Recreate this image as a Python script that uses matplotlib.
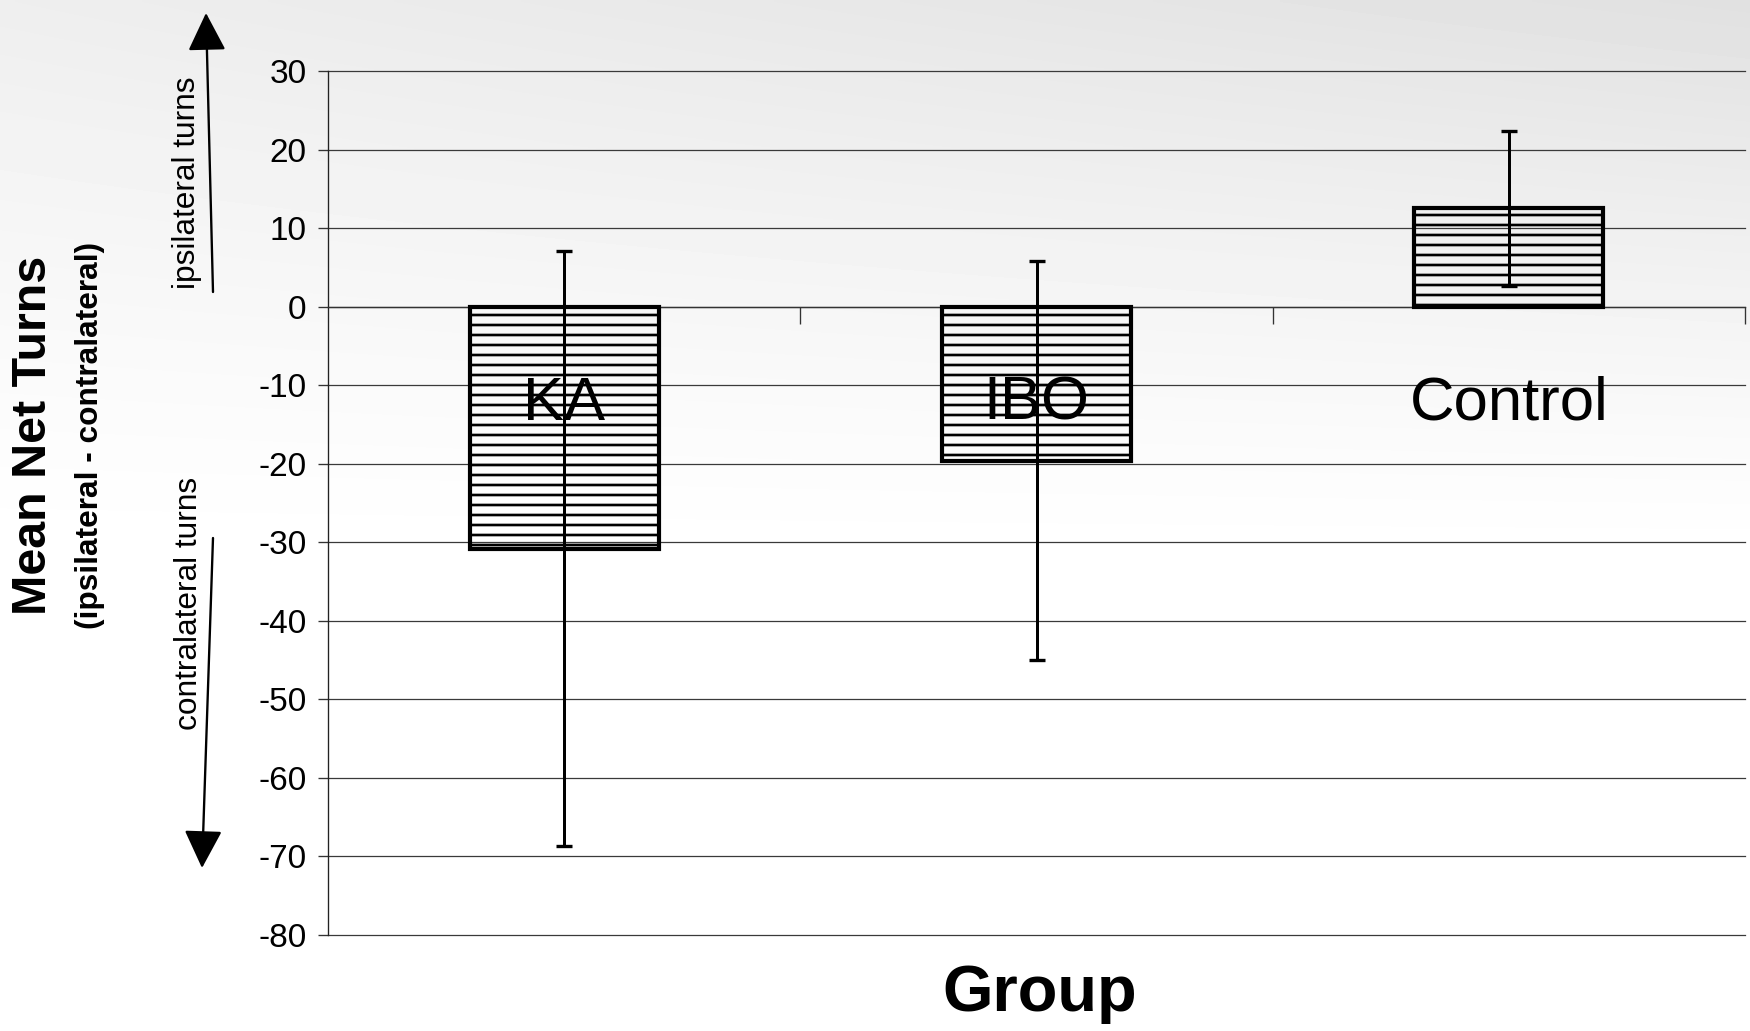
import numpy as np
import matplotlib
matplotlib.use("Agg")
import matplotlib.pyplot as plt

# Data: mean net turns (ipsilateral - contralateral) per lesion group, with error bars
groups = ["KA", "IBO", "Control"]
mean_net_turns = [-30.8, -19.6, 12.5]
error = [37.9, 25.4, 9.9]
y_ticks = [30, 20, 10, 0, -10, -20, -30, -40, -50, -60, -70, -80]

plt.rcParams["font.family"] = ["Liberation Sans", "DejaVu Sans"]
plt.rcParams["hatch.linewidth"] = 1.6
plt.rcParams["hatch.color"] = "black"

W, H, DPI = 1750, 1031, 120
fig = plt.figure(figsize=(W / DPI, H / DPI), dpi=DPI)
fig.patch.set_facecolor("white")

# Soft grey paper shading towards the top of the page
bg = fig.add_axes([0, 0, 1, 1], zorder=-10)
yy, xx = np.mgrid[0:H:4, 0:W:4]
shade = 0.12 * np.clip(1 - yy / 560.0, 0, 1) ** 1.2 * (0.55 + 0.45 * xx / W)
bg.imshow(1 - shade, cmap="gray", vmin=0, vmax=1, aspect="auto",
          extent=[0, 1, 0, 1], interpolation="bilinear")
bg.set_axis_off()

ax = fig.add_axes([328 / W, 1 - 935 / H, (1745 - 328) / W, (935 - 71) / H])
ax.patch.set_alpha(0)

x = np.arange(len(groups))
ax.bar(x, mean_net_turns, width=0.4, facecolor="none", edgecolor="black",
       hatch="--", linewidth=2.5, zorder=3)
ax.errorbar(x, mean_net_turns, yerr=error, fmt="none", ecolor="black",
            elinewidth=1.8, capsize=5, capthick=2.0, zorder=4)

for xi, name in zip(x, groups):
    ax.text(xi, -14.4, name, ha="center", va="baseline", fontsize=37,
            color="black", zorder=5)

ax.set_xlim(-0.5, len(groups) - 0.5)
ax.set_ylim(-80, 30)
ax.set_yticks(y_ticks)
ax.set_yticklabels([str(t) for t in y_ticks], fontsize=20)
ax.tick_params(axis="y", direction="out", length=6, width=0.8, pad=7,
               color="#333333")
ax.yaxis.grid(True, color="#3a3a3a", linewidth=0.75)
for gl in ax.get_ygridlines():
    gl.set_clip_on(False)
ax.set_axisbelow(True)

# Category axis sits on the zero line, with ticks between groups
ax.spines["bottom"].set_position(("data", 0))
ax.spines["bottom"].set_color("#333333")
ax.spines["bottom"].set_linewidth(0.8)
ax.spines["left"].set_color("#222222")
ax.spines["left"].set_linewidth(0.8)
ax.spines["top"].set_visible(False)
ax.spines["right"].set_visible(False)
ax.set_xticks([0.5, 1.5, 2.5])
ax.set_xticklabels([])
ax.tick_params(axis="x", direction="out", length=10, width=0.8,
               color="#333333")

# Axis titles
fig.text(34 / W, 1 - 435 / H, "Mean Net Turns", rotation=90, ha="center",
         va="center", fontsize=29, fontweight="bold")
fig.text(90 / W, 1 - 435 / H, "(ipsilateral - contralateral)", rotation=90,
         ha="center", va="center", fontsize=19, fontweight="bold")
fig.text(1040 / W, 1 - 1011 / H, "Group", ha="center", va="baseline",
         fontsize=39, fontweight="bold")

# Direction arrows beside the value axis
fig.text(187 / W, 1 - 183 / H, "ipsilateral turns", rotation=90, ha="center",
         va="center", fontsize=19)
fig.text(189 / W, 1 - 603 / H, "contralateral turns", rotation=90,
         ha="center", va="center", fontsize=19)
arrow = dict(arrowstyle="-|>,head_length=0.9,head_width=0.45", color="black",
             lw=1.4, mutation_scale=22, shrinkA=0, shrinkB=0)
fig.add_artist(matplotlib.patches.FancyArrowPatch(
    (213 / W, 1 - 292 / H), (206 / W, 1 - 13 / H),
    transform=fig.transFigure, **arrow))
fig.add_artist(matplotlib.patches.FancyArrowPatch(
    (213 / W, 1 - 538 / H), (202 / W, 1 - 868 / H),
    transform=fig.transFigure, **arrow))

fig.savefig("out.png", dpi=DPI)
